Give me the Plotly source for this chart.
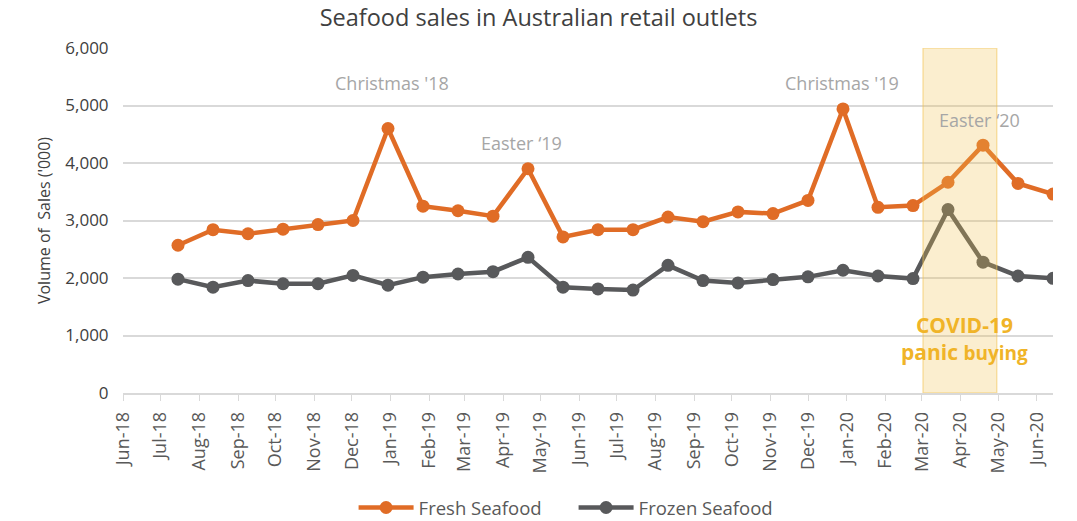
import pandas as pd
import plotly.graph_objects as go

# 4-weekly periods
dates = pd.date_range("2018-07-15", periods=26, freq="28D")
fresh = [2570, 2840, 2770, 2850, 2930, 3000, 4600, 3250, 3170, 3075, 3900, 2715,
         2840, 2840, 3060, 2980, 3150, 3120, 3350, 4940, 3230, 3260, 3665, 4310, 3645, 3460]
frozen = [1980, 1840, 1955, 1900, 1900, 2045, 1875, 2015, 2070, 2110, 2360, 1840,
          1810, 1790, 2220, 1955, 1915, 1972, 2020, 2135, 2035, 1990, 3190, 2275, 2035, 1995]

series_names = ["Fresh Seafood", "Frozen Seafood"]
series_colors = ["#E06C26", "#58595B"]

labels = ["Christmas '18", "Easter ‘19", "Christmas '19", "Easter ‘20"]
label_x = ["2019-01-02", "2019-04-16", "2019-12-28", "2020-04-16"]
label_y = [5390, 4350, 5390, 4750]

covid_start, covid_end = "2020-03-02", "2020-04-30"

FONT = "Segoe UI, Open Sans, Noto Sans, sans-serif"

fig = go.Figure()
for name, vals, col in zip(series_names, [fresh, frozen], series_colors):
    fig.add_trace(go.Scatter(
        x=dates, y=vals, name=name, mode="lines+markers",
        line=dict(color=col, width=4.5),
        marker=dict(color=col, size=13),
    ))

fig.add_shape(type="rect", xref="x", yref="y", x0=covid_start, x1=covid_end,
              y0=0, y1=6000, fillcolor="rgba(242,193,78,0.27)",
              line=dict(color="rgba(242,193,78,0.45)", width=1.5), layer="above")

for t, x, y in zip(labels, label_x, label_y):
    fig.add_annotation(x=x, y=y, text=t, showarrow=False,
                       font=dict(family=FONT, size=18, color="#A6A6A6"))

fig.add_annotation(x="2020-04-04", y=950,
                   text="<b>COVID-19</b><br><b>panic</b> <b><span style='font-size:19px'>buying</span></b>",
                   showarrow=False, font=dict(family=FONT, size=21, color="#F0B428"),
                   align="center")

fig.update_layout(
    width=1077, height=521,
    margin=dict(l=123, r=24, t=48, b=128),
    paper_bgcolor="white", plot_bgcolor="white",
    font=dict(family=FONT, color="#595959"),
    title=dict(text="Seafood sales in Australian retail outlets", x=0.5, xanchor="center",
               y=0.965, yanchor="middle", font=dict(family=FONT, size=23.5, color="#404040")),
    showlegend=True,
    legend=dict(orientation="h", x=0.4845, xanchor="center", yref="container",
                y=0.025, yanchor="middle", entrywidth=150,
                font=dict(family=FONT, size=18.5, color="#595959"), itemwidth=55),
    xaxis=dict(type="date", range=["2018-06-01", "2020-06-14"], tick0="2018-06-01",
               dtick="M1", tickformat="%b-%y", tickangle=-90,
               showgrid=False, showline=True, linecolor="#D9D9D9", linewidth=1.5,
               ticks="outside", ticklen=6, tickcolor="#D9D9D9", ticklabelstandoff=4,
               tickfont=dict(family=FONT, size=18, color="#595959")),
    yaxis=dict(range=[0, 6000], dtick=1000, tickformat=",", showgrid=True,
               gridcolor="#D9D9D9", gridwidth=1.5, zeroline=False, showline=False,
               ticks="outside", ticklen=10, tickcolor="rgba(0,0,0,0)",
               tickfont=dict(family=FONT, size=17, color="#404040"),
               title=dict(text="Volume of  Sales ('000)", standoff=10,
                          font=dict(family=FONT, size=16, color="#404040"))),
)

fig.write_html("out.html")
